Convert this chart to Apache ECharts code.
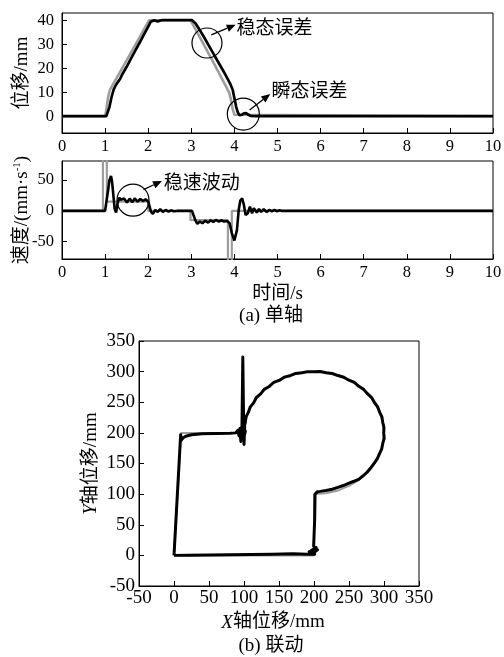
<!DOCTYPE html>
<html><head><meta charset="utf-8">
<script src="https://cdn.jsdelivr.net/npm/echarts@6/dist/echarts.min.js"></script>
<style>html,body{margin:0;padding:0;background:#fff}#c{width:504px;height:657px}</style>
</head><body><div id="c"></div><script>
const FONT = "'Liberation Serif','Noto Sans CJK SC',serif";
const CJK = "'Noto Sans CJK SC',sans-serif";

// ---- data ----
const timeTicks = [0,1,2,3,4,5,6,7,8,9,10];
const posTicks = [0,10,20,30,40];
const velTicks = [-50,0,50];
const xyTicks = [-50,0,50,100,150,200,250,300,350];

const refPosition = [[0,0],[1.0,0],[1.03,3],[1.07,8],[1.11,10.8],[1.15,12.2],[1.5,23.3],[1.8,32.8],[1.98,38.7],[2.02,40],[2.98,40],[3.02,39.2],[3.25,31.2],[3.5,22.8],[3.75,14.3],[3.88,9.8],[3.92,7],[3.96,3],[4.0,0.6],[4.03,0],[10,0]];
const actPosition = [[0,0],[1.03,0],[1.06,0.8],[1.1,3.8],[1.15,8],[1.2,11.2],[1.25,13],[1.3,14.3],[1.35,15.6],[1.4,17.5],[1.5,20.6],[1.6,24],[1.7,27.3],[1.8,30.6],[1.9,34],[2.0,37.3],[2.06,39.4],[2.1,40.2],[2.14,40],[2.18,39.6],[2.22,39.5],[2.27,39.8],[2.32,40],[3.02,40],[3.06,39.6],[3.1,38.6],[3.2,35.8],[3.3,32.8],[3.4,29.6],[3.5,26.5],[3.6,23.3],[3.7,20.2],[3.8,17],[3.9,13.6],[3.96,11],[4.0,7.5],[4.04,4],[4.08,1.5],[4.12,0.4],[4.17,0.6],[4.22,1.2],[4.27,1.3],[4.32,0.7],[4.38,0.1],[4.5,0],[4.94,0],[4.96,-0.8],[4.98,0],[5.05,0],[5.07,-0.8],[5.09,0],[10,0]];

const refVelocity = [[0,0],[0.95,0],[0.95,100],[1.04,100],[1.04,15],[2.0,15],[2.0,0],[2.98,0],[2.98,-15],[3.85,-15],[3.85,-100],[3.94,-100],[3.94,0],[10,0]];
const actVelocity = [[0,0],[1.0,0],[1.03,1.6],[1.07,34],[1.1,50],[1.137,56.7],[1.16,48],[1.18,34],[1.22,4],[1.255,-2.7],[1.29,12.4],[1.33,21.6],[1.36,18],[1.391,15],[1.445,20],[1.507,13.5],[1.569,20],[1.631,14],[1.685,20.5],[1.755,15],[1.817,19.5],[1.879,16],[1.94,18.9],[2.002,15],[2.064,-1],[2.11,-4.8],[2.165,1.6],[2.22,-1.6],[2.28,2.7],[2.34,-1.6],[2.405,1.6],[2.47,-1],[2.53,1],[2.59,-0.5],[2.67,0],[3.016,0],[3.09,-14.6],[3.14,-21],[3.2,-17.3],[3.26,-20],[3.32,-15.7],[3.39,-19],[3.45,-15.1],[3.51,-17.8],[3.57,-14.6],[3.64,-17.3],[3.70,-15.1],[3.76,-17.3],[3.83,-16.2],[3.89,-20],[3.94,-36],[4.0,-48],[4.03,-49.7],[4.06,-30.8],[4.1,1.6],[4.137,16.8],[4.18,20.5],[4.22,9.7],[4.26,-6.5],[4.31,-3.8],[4.36,7],[4.41,-3.8],[4.45,4.3],[4.52,-2.7],[4.57,3.2],[4.62,-1.6],[4.68,2.7],[4.75,-1.6],[4.81,1.6],[4.87,-0.5],[4.93,1.6],[4.99,-0.5],[5.05,1],[5.1,0],[10,0]];

const refPath = [[0,0],[10,200],[100,200],[101.5,217.4],[106.0,234.2],[113.4,250],[123.4,264.3],[135.7,276.6],[150,286.6],[165.8,294.0],[182.6,298.5],[200,300],[217.4,298.5],[234.2,294.0],[250,286.6],[264.3,276.6],[276.6,264.3],[286.6,250],[294.0,234.2],[298.5,217.4],[300,200],[298.5,182.6],[294.0,165.8],[286.6,150],[276.6,135.7],[264.3,123.4],[250,113.4],[234.2,106.0],[217.4,101.5],[200,100],[200,0],[0,0]];
const actPath = [[0,0],[1,0.5],[9.5,197],[10.5,188],[13,192],[18,195],[25,197],[40,198.5],[60,199],[80,199.5],[88,200],[91,204],[93,195],[94,207],[95.5,186],[96.5,209],[97,199],[98.3,324],[99.2,240],[99.5,205],[100,181],[101,210],[98,194],[102,203],[99,188],[101,200],
[100.2,209],[101.8,217],[103,226.5],[106.3,233.8],[109,242.5],[113.8,249],[117.6,257.8],[123.8,263.6],[128.8,271],[136.2,275.8],[142.2,282.3],[150.3,285.7],[157.4,291],[166,293.3],[173.8,297],[182.8,298.2],[191.2,300],[200,299.6],[208.8,300.2],[217.3,298.2],[226.1,296.9],[234.1,293.6],[242.6,290.9],[249.8,286],[257.7,282.3],[264,276],[271,271],[276.3,264],[282.3,257.6],[286.3,249.6],[291,242.4],[293.7,234],[297,226],[298.2,217.3],[300,208.8],[299.6,200],[300.3,191.2],[298.2,182.8],[296.8,174],[293.6,166.2],[290.5,157.9],[286.1,150.6],[281.3,143.1],[276.4,136.4],[270.2,130],[264.3,124.5],[257,121],[250,118],[242,114],[234,111],[226,108],[217,106],[209,104.5],[205,104],[203,106],[201.5,100],[201,60],[200,30],[199.5,15],[203,13],[196,8],[205,9],[199,4],[193,6],[201,2],[190,2],[170,2.5],[140,2],[110,1.5],[80,1],[50,0.5],[20,0.2],[0,0]];

// annotations (data coordinates)
const notes = [
  {grid:0, circle:[3.364,30.5], r:15, from:[3.464,33.9], to:[4.03,38.1], text:'稳态误差', at:[4.05,37.1]},
  {grid:0, circle:[4.207,0.9], r:16, from:[4.353,2.6], to:[4.833,9.2], text:'瞬态误差', at:[4.86,10.9]},
  {grid:1, circle:[1.647,17.4], r:16, from:[1.893,34.7], to:[2.32,48.6], text:'稳速波动', at:[2.36,47.5]}
];

const chart = echarts.init(document.getElementById('c'), null, {renderer:'canvas'});
const black = '#000';
const gray = '#9d9d9d';
function xAx(grid, min, max, ticks, labelMargin, fs, extra) {
  return Object.assign({
    type:'value', gridIndex:grid, min, max, interval: ticks[1]-ticks[0],
    axisLine:{show:true, onZero:false, lineStyle:{color:black,width:1}},
    axisTick:{show:true, inside:true, length:5, lineStyle:{color:black}},
    axisLabel:{color:black, fontFamily:FONT, fontSize:fs, margin:labelMargin},
    splitLine:{show:false}, nameMoveOverlap:false
  }, extra||{});
}
function yAx(grid, min, max, ticks, labelMargin, fs, extra) {
  return Object.assign({
    type:'value', gridIndex:grid, min, max,
    axisLine:{show:true, onZero:false, lineStyle:{color:black,width:1}},
    axisTick:{show:true, inside:true, length:5, lineStyle:{color:black}, customValues:ticks},
    axisLabel:{color:black, fontFamily:FONT, fontSize:fs, margin:labelMargin, customValues:ticks},
    splitLine:{show:false}, nameMoveOverlap:false
  }, extra||{});
}
const nameStyle = {color:black, fontFamily:FONT, fontSize:18};
const gridBase = {show:true, borderColor:black, borderWidth:1, backgroundColor:'transparent', containLabel:false, outerBoundsMode:'none'};

chart.setOption({
  animation:false,
  backgroundColor:'#fff',
  grid:[
    Object.assign({left:62, top:13, width:431, height:120}, gridBase),
    Object.assign({left:62, top:161, width:431, height:98}, gridBase),
    Object.assign({left:139, top:341, width:280, height:245}, gridBase)
  ],
  xAxis:[
    xAx(0, 0, 10, timeTicks, 5, 16.5),
    xAx(1, 0, 10, timeTicks, 5, 16.5, {name:'时间/s', nameLocation:'middle', nameGap:26, nameTextStyle:Object.assign({}, nameStyle, {fontSize:19})}),
    xAx(2, -50, 350, xyTicks, 3, 19, {name:'{i|X}轴位移/mm', nameLocation:'middle', nameGap:27,
      nameTextStyle:Object.assign({}, nameStyle, {fontSize:19, padding:[0,12,0,0], rich:{i:{fontStyle:'italic', fontFamily:FONT, fontSize:19, color:black}}})})
  ],
  yAxis:[
    yAx(0, -7, 43, posTicks, 8, 16.5, {name:'位移/mm', nameLocation:'middle', nameGap:30, nameTextStyle:Object.assign({}, nameStyle, {fontSize:19})}),
    yAx(1, -78, 81, velTicks, 8, 16.5, {name:'速度/(mm·s{sup|-1})', nameLocation:'middle', nameGap:30,
      nameTextStyle:Object.assign({}, nameStyle, {fontSize:19, rich:{sup:{fontFamily:FONT, fontSize:11, color:black, verticalAlign:'top', padding:[0,0,9,0]}}})}),
    yAx(2, -50, 350, xyTicks, 4, 19, {name:'{i|Y}轴位移/mm', nameLocation:'middle', nameGap:38,
      nameTextStyle:Object.assign({}, nameStyle, {fontSize:19, rich:{i:{fontStyle:'italic', fontFamily:FONT, fontSize:19, color:black}}})})
  ],
  series:[
    {type:'line', xAxisIndex:0, yAxisIndex:0, data:refPosition, showSymbol:false, lineStyle:{color:gray, width:2.6}, z:2},
    {type:'line', xAxisIndex:0, yAxisIndex:0, data:actPosition, showSymbol:false, lineStyle:{color:black, width:2.7}, z:3},
    {type:'line', xAxisIndex:1, yAxisIndex:1, data:refVelocity, showSymbol:false, lineStyle:{color:gray, width:2.2}, z:2},
    {type:'line', xAxisIndex:1, yAxisIndex:1, data:actVelocity, showSymbol:false, lineStyle:{color:black, width:2.6}, z:3},
    {type:'line', xAxisIndex:2, yAxisIndex:2, data:refPath, showSymbol:false, lineStyle:{color:gray, width:2}, z:2},
    {type:'line', xAxisIndex:2, yAxisIndex:2, data:actPath, showSymbol:false, lineStyle:{color:black, width:3, join:'round'}, z:3}
  ]
});

// annotations and captions
const g = [];
notes.forEach(n => {
  const sIdx = n.grid === 0 ? 1 : 3;
  const c = chart.convertToPixel({seriesIndex:sIdx}, n.circle);
  const a = chart.convertToPixel({seriesIndex:sIdx}, n.from);
  const b = chart.convertToPixel({seriesIndex:sIdx}, n.to);
  const t = chart.convertToPixel({seriesIndex:sIdx}, n.at);
  g.push({type:'circle', shape:{cx:c[0], cy:c[1], r:n.r}, style:{fill:'none', stroke:black, lineWidth:1.2}, z:10});
  const dx = b[0]-a[0], dy = b[1]-a[1], L = Math.hypot(dx,dy), ux = dx/L, uy = dy/L;
  const hl = 9, hw = 3.8;
  const bx = b[0]-ux*hl, by = b[1]-uy*hl;
  g.push({type:'line', shape:{x1:a[0], y1:a[1], x2:bx, y2:by}, style:{stroke:black, lineWidth:1.3}, z:10});
  g.push({type:'polygon', shape:{points:[[b[0],b[1]],[bx-uy*hw, by+ux*hw],[bx+uy*hw, by-ux*hw]]}, style:{fill:black}, z:10});
  g.push({type:'text', x:t[0], y:t[1], style:{text:n.text, fill:black, font:"19px "+CJK, textAlign:'left', textVerticalAlign:'middle'}, z:10});
});
g.push({type:'text', x:271, y:316, style:{text:'(a) 单轴', fill:black, font:"19px "+FONT, textAlign:'center', textVerticalAlign:'middle'}});
g.push({type:'text', x:271, y:646, style:{text:'(b) 联动', fill:black, font:"19px "+FONT, textAlign:'center', textVerticalAlign:'middle'}});
chart.setOption({graphic:{elements:g}});
</script></body></html>
